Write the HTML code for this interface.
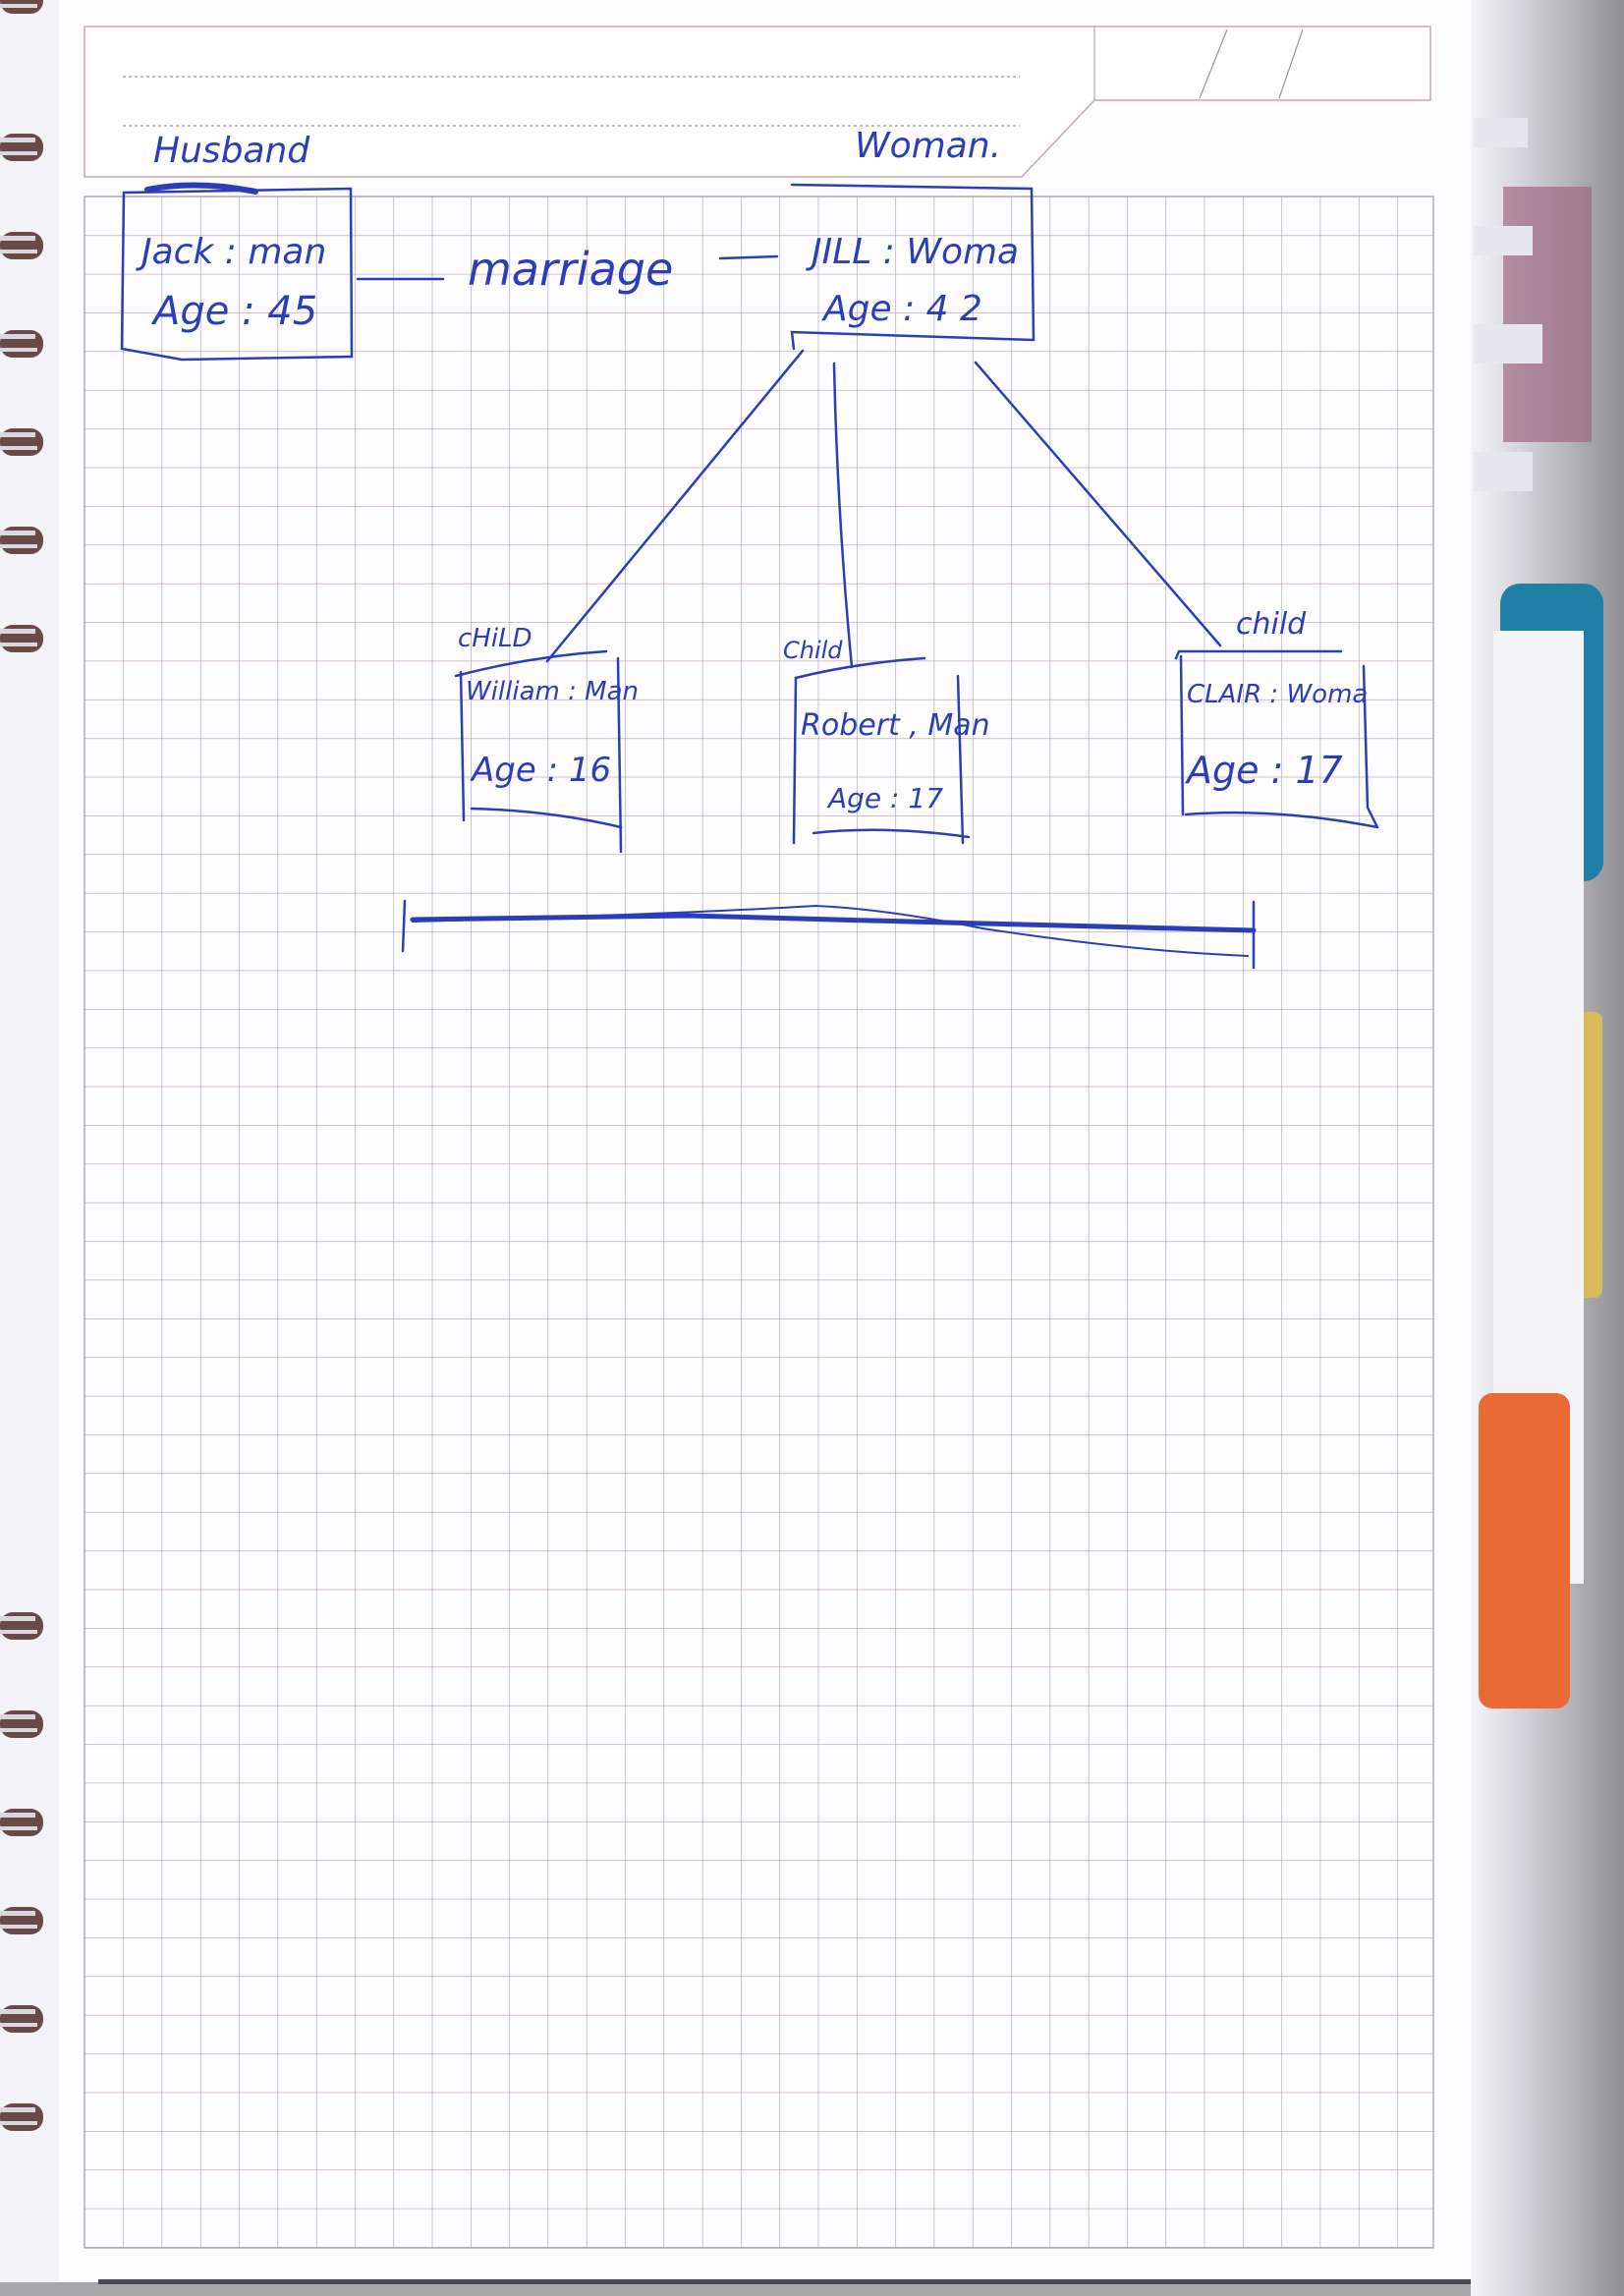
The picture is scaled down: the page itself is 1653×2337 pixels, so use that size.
<!DOCTYPE html>
<html><head><meta charset="utf-8"><style>
html,body{margin:0;padding:0;}
body{width:1653px;height:2337px;overflow:hidden;background:#f3f3f8;}
svg{display:block;}
.h{font-family:"DejaVu Sans","Liberation Sans",sans-serif;fill:#2b3db8;font-style:italic;}
</style></head><body>
<svg width="1653" height="2337" viewBox="0 0 1653 2337" xmlns="http://www.w3.org/2000/svg">
<defs>
<pattern id="g" x="86" y="200" width="39.3" height="39.38" patternUnits="userSpaceOnUse">
<line x1="0" y1="0" x2="39.3" y2="0" stroke="#c49aa6" stroke-width="1.3"/>
<line x1="0" y1="0" x2="0" y2="39.38" stroke="#9f9fb4" stroke-width="1.2"/>
</pattern>
<linearGradient id="rg" x1="0" x2="1"><stop offset="0" stop-color="#f4f4f8"/><stop offset="0.35" stop-color="#d2d2d8"/><stop offset="1" stop-color="#8f8f92"/></linearGradient>
</defs>
<rect x="0" y="0" width="1653" height="2337" fill="#f2f2f7"/>
<rect x="60" y="0" width="1440" height="2323" fill="#fdfdff"/>
<rect x="0" y="2323" width="1653" height="14" fill="#a8a8aa"/>
<rect x="100" y="2320" width="1400" height="5" fill="#4a4a55"/>
<rect x="1497" y="0" width="156" height="2337" fill="url(#rg)"/>
<rect x="1530" y="190" width="90" height="260" fill="#a06a80" opacity="0.7"/>
<rect x="1500" y="120" width="55" height="30" fill="#e6e6ec"/>
<rect x="1500" y="230" width="60" height="30" fill="#e6e6ec"/>
<rect x="1500" y="330" width="70" height="40" fill="#e6e6ec"/>
<rect x="1500" y="460" width="60" height="40" fill="#e6e6ec"/>
<rect x="1527" y="594" width="105" height="303" rx="20" fill="#1f7fa6"/>
<rect x="1603" y="1030" width="28" height="291" rx="8" fill="#d8bb5a"/>
<rect x="1520" y="642" width="92" height="970" fill="#f4f4f6"/>
<rect x="1505" y="1418" width="93" height="321" rx="14" fill="#ea6a36"/>
<g>
<g id="r"><rect x="0" y="-14" width="44" height="28" rx="13" fill="#6a4a48"/><rect x="0" y="-10" width="36" height="5" fill="#d8d8de"/><rect x="0" y="4" width="38" height="4" fill="#d8d8de"/></g>
</g>
<use href="#r" y="150"/><use href="#r" y="250"/><use href="#r" y="350"/><use href="#r" y="450"/><use href="#r" y="550"/><use href="#r" y="650"/>
<use href="#r" y="1655"/><use href="#r" y="1755"/><use href="#r" y="1855"/><use href="#r" y="1955"/><use href="#r" y="2055"/><use href="#r" y="2155"/>
<path d="M86 27 H1456 V102 H1114 L1040 180 H86 Z" fill="#fff" stroke="#c8a8b4" stroke-width="1.5"/>
<line x1="1114" y1="27" x2="1114" y2="102" stroke="#aaa" stroke-width="1.2"/>
<line x1="1249" y1="30" x2="1221" y2="100" stroke="#999" stroke-width="1.2"/>
<line x1="1326" y1="30" x2="1302" y2="100" stroke="#999" stroke-width="1.2"/>
<line x1="125" y1="78" x2="1038" y2="78" stroke="#999" stroke-width="1.2" stroke-dasharray="3 3"/>
<line x1="125" y1="128" x2="1038" y2="128" stroke="#999" stroke-width="1.2" stroke-dasharray="3 3"/>
<rect x="86" y="200" width="1373" height="2088" fill="url(#g)"/>
<rect x="86" y="200" width="1373" height="2088" fill="none" stroke="#a8a0b4" stroke-width="1.3"/>
<g stroke="#2b3db8" stroke-width="2.5" fill="none" stroke-linecap="round">
<text class="h" x="156" y="165" font-size="36" stroke="none">Husband</text>
<text class="h" x="870" y="160" font-size="36" stroke="none">Woman.</text>
<path d="M150 193 Q200 183 260 195" stroke-width="6"/>
<path d="M126 196 L357 192 L358 363 L185 366 L124 355 Z"/>
<text class="h" x="144" y="268" font-size="36" stroke="none">Jack : man</text>
<text class="h" x="156" y="330" font-size="40" stroke="none">Age : 45</text>
<line x1="364" y1="284" x2="451" y2="284"/>
<text class="h" x="476" y="290" font-size="46" stroke="none">marriage</text>
<line x1="733" y1="263" x2="791" y2="261"/>
<path d="M806 188 L1050 192 L1052 346 L806 338 L808 355"/>
<text class="h" x="826" y="268" font-size="36" stroke="none">JILL : Woma</text>
<text class="h" x="838" y="326" font-size="36" stroke="none">Age : 4 2</text>
<line x1="817" y1="357" x2="557" y2="673"/>
<path d="M849 370 Q852 520 867 679"/>
<line x1="993" y1="369" x2="1242" y2="657"/>
<text class="h" x="466" y="658" font-size="26" stroke="none">cHiLD</text>
<path d="M464 688 Q540 668 617 663"/>
<path d="M469 684 L472 835"/><path d="M629 670 L632 867"/>
<path d="M480 823 Q560 825 632 842"/>
<text class="h" x="474" y="712" font-size="26" stroke="none">William : Man</text>
<text class="h" x="480" y="795" font-size="34" stroke="none">Age : 16</text>
<text class="h" x="797" y="670" font-size="24" stroke="none">Child</text>
<path d="M810 690 Q870 675 941 670"/>
<path d="M810 690 L808 858"/><path d="M975 688 L980 858"/>
<path d="M828 848 Q900 840 986 852"/>
<text class="h" x="815" y="748" font-size="30" stroke="none">Robert , Man</text>
<text class="h" x="843" y="822" font-size="28" stroke="none">Age : 17</text>
<text class="h" x="1258" y="645" font-size="30" stroke="none">child</text>
<path d="M1197 670 L1200 663 L1365 663"/>
<path d="M1202 668 L1204 829"/><path d="M1388 678 L1392 822 L1402 842"/>
<path d="M1207 829 Q1300 822 1402 842"/>
<text class="h" x="1208" y="715" font-size="26" stroke="none">CLAIR : Woma</text>
<text class="h" x="1208" y="797" font-size="38" stroke="none">Age : 17</text>
<line x1="412" y1="917" x2="410" y2="968"/>
<line x1="1276" y1="918" x2="1276" y2="985"/>
<path d="M420 936 L700 932 L1000 940 L1276 947" stroke-width="5"/>
<path d="M420 938 Q700 930 830 922 Q900 925 1000 945 Q1150 968 1270 973" stroke-width="2"/>
</g>
</svg>
</body></html>
